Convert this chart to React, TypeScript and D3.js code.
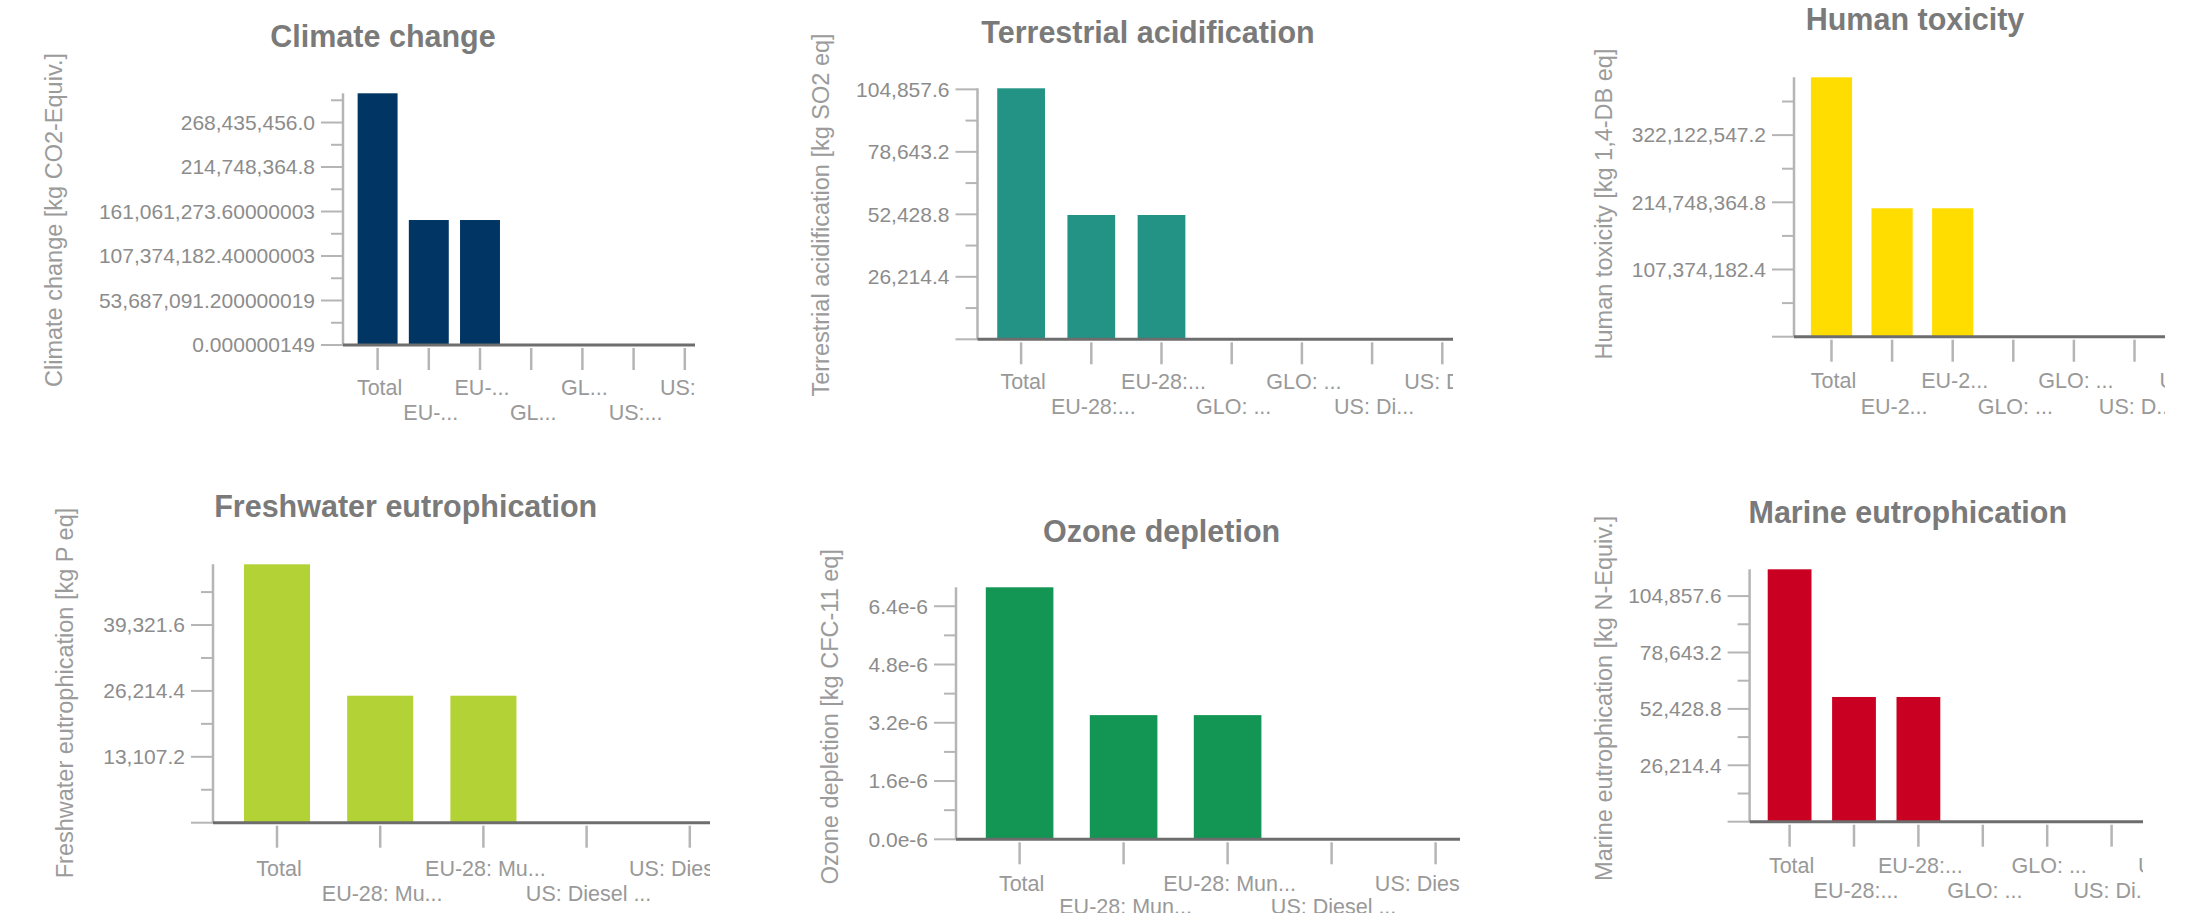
import React, { useEffect, useRef } from 'react';
import * as d3 from 'd3';

// bar values
const climateLabels = ['Total', 'EU-...', 'EU-...', 'GL...', 'GL...', 'US:...', 'US:...'];
const climateValues = [303700000, 150800000, 150800000, 0, 0, 0, 0];
const climateTicks = [0.000000149, 53687091.2, 107374182.4, 161061273.6, 214748364.8, 268435456];
const climateTickLabels = ['0.000000149', '53,687,091.200000019', '107,374,182.40000003', '161,061,273.60000003', '214,748,364.8', '268,435,456.0'];

const acidLabels = ['Total', 'EU-28:...', 'EU-28:...', 'GLO: ...', 'GLO: ...', 'US: Di...', 'US: Di...'];
const acidValues = [105300, 52150, 52150, 0, 0, 0, 0];
const acidTicks = [0, 26214.4, 52428.8, 78643.2, 104857.6];
const acidTickLabels = ['', '26,214.4', '52,428.8', '78,643.2', '104,857.6'];

const toxLabels = ['Total', 'EU-2...', 'EU-2...', 'GLO: ...', 'GLO: ...', 'US: D...', 'US: D...'];
const toxValues = [414500000, 205200000, 205200000, 0, 0, 0, 0];
const toxTicks = [0, 107374182.4, 214748364.8, 322122547.2];
const toxTickLabels = ['', '107,374,182.4', '214,748,364.8', '322,122,547.2'];

const freshLabels = ['Total', 'EU-28: Mu...', 'EU-28: Mu...', 'US: Diesel ...', 'US: Diesel ...'];
const freshValues = [51400, 25260, 25260, 0, 0];
const freshTicks = [0, 13107.2, 26214.4, 39321.6];
const freshTickLabels = ['', '13,107.2', '26,214.4', '39,321.6'];

const ozoneLabels = ['Total', 'EU-28: Mun...', 'EU-28: Mun...', 'US: Diesel ...', 'US: Diesel ...'];
const ozoneValues = [6.92e-6, 3.41e-6, 3.41e-6, 0, 0];
const ozoneTicks = [0, 1.6e-6, 3.2e-6, 4.8e-6, 6.4e-6];
const ozoneTickLabels = ['0.0e-6', '1.6e-6', '3.2e-6', '4.8e-6', '6.4e-6'];

const marineLabels = ['Total', 'EU-28:...', 'EU-28:...', 'GLO: ...', 'GLO: ...', 'US: Di...', 'US: Di...'];
const marineValues = [117300, 57960, 57960, 0, 0, 0, 0];
const marineTicks = [0, 26214.4, 52428.8, 78643.2, 104857.6];
const marineTickLabels = ['', '26,214.4', '52,428.8', '78,643.2', '104,857.6'];

const FONT = '"Liberation Sans", Arial, Helvetica, sans-serif';

// where each small chart sits on the page
const panels = [
  { title: 'Climate change', yLabel: 'Climate change [kg CO2-Equiv.]', color: '#013563',
    labels: climateLabels, values: climateValues, ticks: climateTicks, tickLabels: climateTickLabels,
    left: 0, rowTop: 0, axisX: 343, top: 93.3, base: 345, x0: 352, step: 51.2, pad: 0.22, clipRight: 695,
    titleX: 383, titleY: 46.7, ylX: 54, ylY: 220, row1: 394.5, row2: 419.5 },
  { title: 'Terrestrial acidification', yLabel: 'Terrestrial acidification [kg SO2 eq]', color: '#229384',
    labels: acidLabels, values: acidValues, ticks: acidTicks, tickLabels: acidTickLabels,
    left: 730, rowTop: 0, axisX: 977.5, top: 88.3, base: 339.3, x0: 986, step: 70.2, pad: 0.32, clipRight: 1453,
    titleX: 1148, titleY: 42.7, ylX: 821, ylY: 215, row1: 389, row2: 414 },
  { title: 'Human toxicity', yLabel: 'Human toxicity [kg 1,4-DB eq]', color: '#ffdd00',
    labels: toxLabels, values: toxValues, ticks: toxTicks, tickLabels: toxTickLabels,
    left: 1460, rowTop: 0, axisX: 1794, top: 77.3, base: 336.7, x0: 1801.2, step: 60.6, pad: 0.32, clipRight: 2165,
    titleX: 1915, titleY: 30, ylX: 1604, ylY: 204, row1: 387.5, row2: 414 },
  { title: 'Freshwater eutrophication', yLabel: 'Freshwater eutrophication [kg P eq]', color: '#b3d235',
    labels: freshLabels, values: freshValues, ticks: freshTicks, tickLabels: freshTickLabels,
    left: 0, rowTop: 456, axisX: 213, top: 564.3, base: 822.7, x0: 225.4, step: 103.2, pad: 0.36, clipRight: 710,
    titleX: 405.7, titleY: 517, ylX: 65, ylY: 693, row1: 876, row2: 901 },
  { title: 'Ozone depletion', yLabel: 'Ozone depletion [kg CFC-11 eq]', color: '#139553',
    labels: ozoneLabels, values: ozoneValues, ticks: ozoneTicks, tickLabels: ozoneTickLabels,
    left: 730, rowTop: 456, axisX: 956, top: 587.3, base: 839.3, x0: 967.6, step: 104, pad: 0.35, clipRight: 1460,
    titleX: 1161.6, titleY: 541.7, ylX: 830, ylY: 716.7, row1: 891, row2: 914 },
  { title: 'Marine eutrophication', yLabel: 'Marine eutrophication [kg N-Equiv.]', color: '#c90021',
    labels: marineLabels, values: marineValues, ticks: marineTicks, tickLabels: marineTickLabels,
    left: 1460, rowTop: 456, axisX: 1749.6, top: 569.3, base: 821.7, x0: 1757.4, step: 64.4, pad: 0.32, clipRight: 2143,
    titleX: 1907.8, titleY: 523.3, ylX: 1604.3, ylY: 698.3, row1: 872.5, row2: 898 },
];

const App = () => {
  const svgRef = useRef(null);

  useEffect(() => {
    const svg = d3.select(svgRef.current);
    svg.selectAll('*').remove();
    const defs = svg.append('defs');

    panels.forEach((p, i) => {
      const clipId = 'clip-' + i;
      defs.append('clipPath').attr('id', clipId)
        .append('rect')
        .attr('x', p.left).attr('y', p.rowTop)
        .attr('width', p.clipRight - p.left).attr('height', 470);

      const y = d3.scaleLinear().domain([0, d3.max(p.values)]).range([p.base, p.top]);
      const x = d3.scaleBand()
        .domain(p.labels.map((_, k) => String(k)))
        .range([p.x0, p.x0 + p.step * p.labels.length])
        .paddingInner(p.pad)
        .paddingOuter(p.pad / 2);

      // title
      svg.append('text')
        .attr('x', p.titleX).attr('y', p.titleY)
        .attr('text-anchor', 'middle')
        .attr('font-family', FONT).attr('font-weight', 'bold').attr('font-size', 30.5)
        .attr('fill', '#7a7a7a')
        .text(p.title);

      // rotated y label
      svg.append('text')
        .attr('transform', `translate(${p.ylX},${p.ylY}) rotate(-90)`)
        .attr('text-anchor', 'middle').attr('dominant-baseline', 'central')
        .attr('font-family', FONT).attr('font-size', 23.5)
        .attr('fill', '#9b9b9b')
        .text(p.yLabel);

      const g = svg.append('g').attr('clip-path', `url(#${clipId})`);

      // minor ticks halfway between the majors
      const major = p.ticks[1] - p.ticks[0];
      const maxV = d3.max(p.values);
      const minor = d3.range(major / 2, maxV, major);
      g.selectAll('.minor').data(minor).enter().append('line')
        .attr('x1', p.axisX - 12).attr('x2', p.axisX)
        .attr('y1', d => y(d)).attr('y2', d => y(d))
        .attr('stroke', '#b5b5b5').attr('stroke-width', 2);

      g.selectAll('.major').data(p.ticks).enter().append('line')
        .attr('x1', p.axisX - 22).attr('x2', p.axisX)
        .attr('y1', d => y(d)).attr('y2', d => y(d))
        .attr('stroke', '#b5b5b5').attr('stroke-width', 2);

      g.selectAll('.tlabel').data(p.ticks).enter().append('text')
        .attr('x', p.axisX - 28).attr('y', d => y(d))
        .attr('dy', '0.35em')
        .attr('text-anchor', 'end')
        .attr('font-family', FONT).attr('font-size', 21)
        .attr('fill', '#8c8c8c')
        .text((d, k) => p.tickLabels[k]);

      g.append('line')
        .attr('x1', p.axisX).attr('x2', p.axisX)
        .attr('y1', p.top).attr('y2', p.base)
        .attr('stroke', '#b5b5b5').attr('stroke-width', 2.5);

      // bars
      g.selectAll('.bar').data(p.values).enter().append('rect')
        .attr('x', (d, k) => x(String(k)))
        .attr('width', x.bandwidth())
        .attr('y', d => y(d))
        .attr('height', d => p.base - y(d))
        .attr('fill', p.color);

      // x axis
      g.append('line')
        .attr('x1', p.axisX).attr('x2', p.clipRight)
        .attr('y1', p.base).attr('y2', p.base)
        .attr('stroke', '#6d6d6d').attr('stroke-width', 3);

      g.selectAll('.xtick').data(p.labels).enter().append('line')
        .attr('x1', (d, k) => x(String(k)) + x.bandwidth() / 2)
        .attr('x2', (d, k) => x(String(k)) + x.bandwidth() / 2)
        .attr('y1', p.base + 3).attr('y2', p.base + 25)
        .attr('stroke', '#b5b5b5').attr('stroke-width', 2.5);

      g.selectAll('.xlabel').data(p.labels).enter().append('text')
        .attr('x', (d, k) => x(String(k)) + x.bandwidth() / 2 + 2)
        .attr('y', (d, k) => (k % 2 === 0 ? p.row1 : p.row2))
        .attr('text-anchor', 'middle')
        .attr('font-family', FONT).attr('font-size', 21.5)
        .attr('fill', '#999999')
        .text(d => d);
    });
  }, []);

  return (
    <svg ref={svgRef} width={2190} height={913}
      style={{ position: 'absolute', left: 0, top: 0, background: '#fff' }} />
  );
};

export default App;
